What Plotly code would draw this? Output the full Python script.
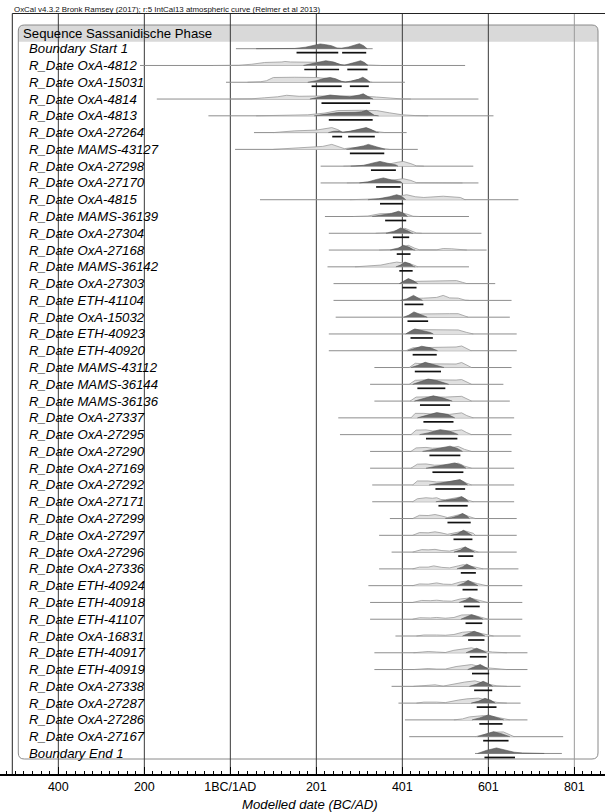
import plotly.graph_objects as go

# ---------------------------------------------------------------- text
TITLE = "OxCal v4.3.2 Bronk Ramsey (2017); r:5 IntCal13 atmospheric curve (Reimer et al 2013)"
GROUP = "Sequence Sassanidische Phase"
AXIS_TITLE = "Modelled date (BC/AD)"

TICK_VALUES = [-400, -200, 0, 200, 400, 600, 800]
TICK_LABELS = ["400", "200", "1BC/1AD", "201", "401", "601", "801"]

LABELS = [
    "Boundary Start 1",
    "R_Date OxA-4812", "R_Date OxA-15031", "R_Date OxA-4814", "R_Date OxA-4813",
    "R_Date OxA-27264", "R_Date MAMS-43127", "R_Date OxA-27298", "R_Date OxA-27170",
    "R_Date OxA-4815", "R_Date MAMS-36139", "R_Date OxA-27304", "R_Date OxA-27168",
    "R_Date MAMS-36142", "R_Date OxA-27303", "R_Date ETH-41104", "R_Date OxA-15032",
    "R_Date ETH-40923", "R_Date ETH-40920", "R_Date MAMS-43112", "R_Date MAMS-36144",
    "R_Date MAMS-36136", "R_Date OxA-27337", "R_Date OxA-27295", "R_Date OxA-27290",
    "R_Date OxA-27169", "R_Date OxA-27292", "R_Date OxA-27171", "R_Date OxA-27299",
    "R_Date OxA-27297", "R_Date OxA-27296", "R_Date OxA-27336", "R_Date ETH-40924",
    "R_Date ETH-40918", "R_Date ETH-41107", "R_Date OxA-16831", "R_Date ETH-40917",
    "R_Date ETH-40919", "R_Date OxA-27338", "R_Date OxA-27287", "R_Date OxA-27286",
    "R_Date OxA-27167",
    "Boundary End 1",
]

# full extent of each calibrated distribution (thin base line)
SPAN_START = [13, -210, -10, -171, -51, 55, 11, 210, 210, 69, 220, 229, 229, 226, 240,
              240, 245, 229, 229, 335, 325, 335, 251, 255, 325, 325, 330, 330, 371, 346,
              375, 346, 321, 325, 325, 384, 335, 335, 375, 391, 406, 416, 569]
SPAN_END = [331, 546, 406, 577, 612, 410, 436, 565, 577, 670, 555, 584, 596, 555, 616,
            654, 650, 666, 666, 654, 635, 650, 660, 654, 654, 660, 660, 660, 666, 666,
            666, 670, 679, 679, 679, 675, 691, 691, 675, 675, 691, 774, 771]

# unmodelled (calibrated) probability, relative height: (year, p)
LIKELIHOOD = [
    None,
    [(-40, 0), (20, .05), (50, .25), (80, .6), (120, .7), (127, .8), (140, .7), (200, .7),
     (240, .6), (258, .15), (270, .1), (290, .4), (305, .6), (320, .1), (350, 0)],
    [(40, 0), (70, .1), (84, .3), (100, .95), (150, 1.0), (200, .95), (230, .7), (255, .3),
     (265, .05), (280, .2), (300, .6), (315, .2), (330, 0)],
    [(0, 0), (50, .05), (80, .25), (110, .45), (131, .75), (160, .55), (200, .6), (240, .6),
     (280, .45), (309, .6), (340, .4), (370, .15), (395, .05), (420, 0)],
    [(60, 0), (120, .05), (180, .2), (220, .55), (250, 1.05), (300, 1.1), (340, 1.05),
     (370, .6), (400, .2), (430, .05), (460, 0)],
    [(100, 0), (130, .2), (150, .35), (200, .5), (220, .7), (236, 1.0), (250, .6), (260, .1),
     (275, .2), (300, .5), (320, .7), (340, .2), (360, 0)],
    [(100, 0), (130, .15), (150, .4), (190, .45), (215, .6), (236, 1.0), (252, .5),
     (265, .15), (280, .3), (300, .5), (320, .6), (345, .3), (370, 0)],
    [(263, 0), (290, .05), (330, .3), (350, .4), (370, .45), (390, .8), (402, .95),
     (420, .5), (433, .05), (450, 0)],
    [(271, 0), (300, .05), (340, .3), (370, .45), (390, .7), (402, .85), (420, .5),
     (433, .05), (480, .03), (500, .1), (520, .08), (540, 0)],
    [(278, 0), (310, .03), (350, .2), (380, .5), (410, 1.0), (430, .6), (450, .45),
     (495, .7), (520, .5), (535, .45), (546, 0)],
    [(286, 0), (320, .1), (348, .55), (370, .6), (391, .8), (410, .5), (425, .05), (440, 0)],
    [(338, 0), (365, .1), (385, .5), (406, 1.0), (420, .5), (433, .05), (445, 0)],
    [(346, 0), (375, .1), (395, .5), (414, .95), (428, .4), (440, .05), (480, .05),
     (495, .3), (515, .25), (534, .05), (550, 0)],
    [(290, 0), (320, .1), (350, .35), (370, .7), (387, .95), (400, .8), (415, .7),
     (428, .3), (436, 0)],
    [(395, 0), (410, .4), (430, .45), (460, .5), (495, .65), (510, .55), (526, .6),
     (540, .25), (550, 0)],
    [(405, 0), (420, .4), (450, .45), (480, .6), (495, 1.0), (510, .5), (530, .45),
     (546, .05), (555, 0)],
    [(408, 0), (420, .5), (450, .65), (480, .75), (510, .7), (530, .7), (545, .2), (553, 0)],
    [(408, 0), (425, .85), (460, .85), (500, .9), (530, .8), (550, .3), (565, 0)],
    [(408, 0), (425, .6), (460, .65), (500, .7), (525, .75), (538, .95), (550, .4), (560, 0)],
    [(416, 0), (430, .85), (450, .75), (500, .65), (525, .7), (538, 1.0), (550, .4), (561, 0)],
    [(416, 0), (430, .8), (455, .9), (500, .8), (525, .85), (538, .95), (550, .4), (561, 0)],
    [(418, 0), (432, .8), (460, .85), (500, .8), (538, .95), (550, .4), (561, 0)],
    [(420, 0), (430, .9), (450, .9), (470, .75), (510, .7), (538, 1.0), (550, .45), (565, 0)],
    [(420, 0), (432, .9), (455, .95), (470, .75), (510, .7), (538, .95), (550, .4), (561, 0)],
    [(420, 0), (432, .7), (455, .8), (470, .65), (510, .7), (530, 1.0), (545, .4), (561, 0)],
    [(420, 0), (435, .8), (455, .85), (475, .6), (505, .65), (530, 1.0), (545, .4), (561, 0)],
    [(424, 0), (435, .8), (460, .8), (480, .6), (510, .65), (534, 1.05), (548, .4), (561, 0)],
    [(424, 0), (435, .6), (455, .8), (470, .7), (480, .8), (490, .45), (500, .4), (525, .7),
     (538, 1.0), (550, .4), (565, 0)],
    [(424, 0), (440, .65), (460, .6), (476, .8), (490, .55), (505, .2), (520, .5),
     (540, .95), (555, .4), (570, 0)],
    [(424, 0), (440, .55), (460, .5), (476, .7), (490, .5), (505, .2), (525, .55),
     (545, .9), (565, .4), (570, 0)],
    [(424, 0), (445, .5), (460, .45), (476, .55), (492, .3), (510, .2), (530, .6),
     (542, .9), (560, .5), (577, 0)],
    [(424, 0), (440, .35), (460, .35), (473, .6), (492, .3), (510, .2), (530, .6),
     (542, .85), (570, .35), (588, 0)],
    [(424, 0), (440, .35), (460, .3), (480, .55), (496, .3), (515, .25), (535, .75),
     (553, .95), (575, .4), (596, 0)],
    [(424, 0), (445, .4), (465, .35), (480, .45), (496, .3), (515, .25), (535, .7),
     (557, .9), (580, .4), (598, 0)],
    [(424, 0), (440, .3), (465, .25), (480, .35), (500, .2), (520, .35), (538, .85),
     (561, .9), (585, .35), (600, 0)],
    [(433, 0), (450, .2), (480, .2), (500, .15), (520, .3), (540, .75), (561, .9),
     (590, .45), (612, 0)],
    [(426, 0), (445, .15), (460, .25), (480, .15), (500, .05), (520, .5), (540, .7),
     (561, 1.0), (585, .4), (610, .15), (643, 0)],
    [(426, 0), (445, .15), (460, .2), (480, .1), (500, .1), (525, .6), (545, .8),
     (561, 1.0), (590, .4), (615, .15), (643, 0)],
    [(426, 0), (450, .1), (476, .3), (495, .05), (520, .5), (545, .85), (569, 1.1),
     (595, .5), (620, .1), (643, 0)],
    [(433, 0), (450, .2), (480, .2), (500, .1), (530, .6), (550, .85), (577, 1.0),
     (600, .6), (620, .15), (643, 0)],
    [(520, 0), (540, .2), (556, .6), (588, .85), (610, .7), (630, .3), (650, 0)],
    [(570, 0), (590, .4), (612, .9), (635, .95), (650, .4), (660, 0)],
    None,
]

# modelled (posterior) probability, relative height: (year, p)
POSTERIOR = [
    [(60, 0), (150, .05), (175, .3), (195, .75), (209, .95), (222, .8), (235, .6),
     (248, .15), (258, .1), (275, .35), (290, .8), (300, 1.0), (310, .6), (318, 0)],
    [(170, 0), (190, .4), (205, .7), (222, .95), (240, .7), (255, .2), (265, .05),
     (278, .3), (295, .75), (303, .95), (312, .6), (320, 0)],
    [(180, 0), (200, .3), (220, .8), (232, .95), (245, .7), (258, .2), (268, .05),
     (280, .2), (298, .6), (308, 1.0), (318, .5), (325, 0)],
    [(185, 0), (205, .35), (232, .8), (255, .6), (278, .45), (300, .8), (309, 1.05),
     (320, .5), (332, 0)],
    [(195, 0), (220, .3), (250, .65), (290, .7), (305, .8), (317, 1.1), (325, .7),
     (335, .1), (345, 0)],
    [(228, 0), (240, .25), (252, .3), (262, .05), (280, .3), (300, .7), (316, 1.0),
     (328, .6), (340, .05), (345, 0)],
    [(270, 0), (290, .3), (310, .7), (321, 1.0), (335, .6), (352, .1), (360, 0)],
    [(280, 0), (310, .15), (330, .6), (348, .95), (365, .6), (385, .25), (390, 0)],
    [(300, 0), (320, .2), (340, .7), (356, 1.0), (375, .6), (395, .3), (400, 0)],
    [(320, 0), (345, .2), (370, .6), (387, 1.0), (398, .7), (408, 0)],
    [(330, 0), (355, .3), (375, .6), (391, 1.05), (402, .7), (412, 0)],
    [(362, 0), (380, .3), (396, 1.05), (410, .6), (422, .05), (425, 0)],
    [(372, 0), (390, .3), (402, .95), (415, .6), (426, .05), (430, 0)],
    [(385, 0), (395, .3), (406, .95), (418, .6), (426, .05), (430, 0)],
    [(393, 0), (402, .4), (414, 1.0), (425, .6), (433, .1), (436, 0)],
    [(396, 0), (410, .3), (426, 1.0), (437, .5), (444, .05), (447, 0)],
    [(403, 0), (415, .4), (427, 1.05), (440, .6), (452, .1), (458, 0)],
    [(408, 0), (418, .5), (429, 1.0), (450, .6), (465, .3), (472, 0)],
    [(412, 0), (425, .4), (445, .9), (465, .6), (478, .15), (482, 0)],
    [(420, 0), (435, .4), (453, 1.05), (475, .6), (492, .15), (497, 0)],
    [(424, 0), (440, .4), (460, 1.05), (480, .75), (500, .2), (508, 0)],
    [(428, 0), (445, .4), (472, 1.05), (495, .6), (512, .1), (516, 0)],
    [(435, 0), (455, .4), (480, 1.05), (505, .7), (518, .2), (522, 0)],
    [(440, 0), (460, .35), (488, 1.0), (510, .7), (525, .2), (530, 0)],
    [(447, 0), (470, .35), (495, .7), (511, 1.05), (528, .6), (538, .05), (540, 0)],
    [(455, 0), (480, .35), (505, .75), (522, 1.05), (538, .6), (546, .05), (548, 0)],
    [(462, 0), (490, .35), (515, .75), (534, 1.05), (545, .5), (552, 0)],
    [(478, 0), (505, .3), (525, .6), (538, 1.0), (548, .5), (554, 0)],
    [(500, 0), (515, .15), (530, .55), (540, 1.0), (550, .5), (556, 0)],
    [(512, 0), (528, .3), (542, 1.0), (552, .55), (562, 0)],
    [(520, 0), (535, .4), (546, 1.05), (558, .5), (568, 0)],
    [(527, 0), (540, .4), (550, .95), (562, .5), (572, 0)],
    [(528, 0), (543, .5), (553, 1.05), (566, .5), (576, 0)],
    [(532, 0), (548, .5), (557, 1.0), (570, .5), (580, 0)],
    [(536, 0), (550, .5), (561, .9), (575, .5), (588, 0)],
    [(540, 0), (555, .5), (567, .95), (580, .55), (592, 0)],
    [(548, 0), (562, .5), (573, .9), (585, .5), (596, 0)],
    [(552, 0), (568, .5), (581, 1.0), (592, .5), (602, 0)],
    [(556, 0), (572, .4), (588, 1.0), (600, .55), (610, 0)],
    [(560, 0), (578, .4), (592, .95), (605, .6), (616, 0)],
    [(562, 0), (580, .4), (600, 1.0), (618, .55), (636, 0)],
    [(575, 0), (592, .5), (612, 1.0), (632, .55), (650, 0)],
    [(575, 0), (595, .6), (619, 1.1), (640, .6), (660, .25), (680, .1), (705, .03), (730, 0)],
]

# 95.4% highest posterior density ranges
RANGES = [
    [(154, 251), (260, 316)], [(172, 253), (272, 319)], [(189, 259), (278, 322)],
    [(212, 325)], [(229, 331)], [(237, 260), (274, 336)], [(278, 358)], [(327, 385)],
    [(339, 396)], [(348, 402)], [(360, 409)], [(378, 416)], [(387, 419)], [(393, 424)],
    [(400, 433)], [(405, 449)], [(412, 460)], [(419, 471)], [(424, 480)], [(429, 490)],
    [(435, 500)], [(441, 511)], [(449, 519)], [(455, 528)], [(463, 535)], [(470, 542)],
    [(477, 546)], [(484, 552)], [(505, 559)], [(519, 563)], [(530, 565)], [(536, 571)],
    [(540, 575)], [(543, 580)], [(547, 586)], [(553, 591)], [(557, 596)], [(562, 602)],
    [(567, 609)], [(573, 619)], [(579, 633)], [(588, 647)], [(591, 662)],
]

# ---------------------------------------------------------------- geometry
W, H = 605, 812
AXIS_PX = 774            # pixel row of the date axis
ROW0_PX, ROW_STEP = 48.7, 16.78
ORIGIN_PX, PX_PER_YEAR = 230.33, 0.43
PEAK_PX = 5.0            # drawn height of a relative probability of 1
BAR_DROP_PX = 4.0

FONT = "Liberation Sans, Arial, Helvetica, sans-serif"
DARK_FILL, DARK_EDGE = "#6e6e6e", "#505050"
LIGHT_FILL, LIGHT_EDGE = "#e0e0e0", "#9a9a9a"
BASE_LINE = "#8e8e8e"
GRID_COLORS = ["#3a3a3a"] * 6 + ["#9a9a9a"]


def ry(px):
    """row units for a pixel height"""
    return (px - ROW0_PX) / ROW_STEP


def yr(px):
    """date units for a pixel column"""
    return (px - ORIGIN_PX) / PX_PER_YEAR


h_scale = PEAK_PX / ROW_STEP
bar_off = BAR_DROP_PX / ROW_STEP

fig = go.Figure()

for i, name in enumerate(LABELS):
    fig.add_trace(go.Scatter(
        x=[SPAN_START[i], SPAN_END[i]], y=[i, i], mode="lines",
        line=dict(color=BASE_LINE, width=1), hoverinfo="skip", showlegend=False))
    like = LIKELIHOOD[i]
    if like:
        fig.add_trace(go.Scatter(
            x=[p[0] for p in like], y=[i - p[1] * h_scale for p in like],
            mode="lines", fill="toself", fillcolor=LIGHT_FILL,
            line=dict(color=LIGHT_EDGE, width=0.8), hoverinfo="skip", showlegend=False))
    post = POSTERIOR[i]
    fig.add_trace(go.Scatter(
        x=[p[0] for p in post], y=[i - p[1] * h_scale for p in post],
        mode="lines", fill="toself", fillcolor=DARK_FILL,
        line=dict(color=DARK_EDGE, width=0.6), hoverinfo="skip", showlegend=False))
    bx, by = [], []
    for a, b in RANGES[i]:
        bx += [a, b, None]
        by += [i + bar_off, i + bar_off, None]
    fig.add_trace(go.Scatter(
        x=bx, y=by, mode="lines", line=dict(color="#111111", width=1.7),
        hoverinfo="skip", showlegend=False))

shapes = []

# outer frame (top and left edges)
shapes.append(dict(type="line", x0=yr(12.3), x1=yr(W), y0=ry(13.5), y1=ry(13.5),
                   line=dict(color="#222", width=1)))
shapes.append(dict(type="line", x0=yr(12.3), x1=yr(12.3), y0=ry(13.5), y1=ry(AXIS_PX),
                   line=dict(color="#222", width=1)))

# rounded group box with its header band
bx0, bx1 = yr(18.3), yr(598)
by0, by1, band = ry(25), ry(759), ry(41.7)
rx, rr = 6 / PX_PER_YEAR, 6 / ROW_STEP
band_path = (f"M {bx0},{band} L {bx0},{by0 + rr} Q {bx0},{by0} {bx0 + rx},{by0} "
             f"L {bx1 - rx},{by0} Q {bx1},{by0} {bx1},{by0 + rr} L {bx1},{band} Z")
shapes.append(dict(type="path", path=band_path, fillcolor="#d9d9d9",
                   line=dict(width=0), layer="below"))
box_path = (f"M {bx0 + rx},{by0} L {bx1 - rx},{by0} Q {bx1},{by0} {bx1},{by0 + rr} "
            f"L {bx1},{by1 - rr} Q {bx1},{by1} {bx1 - rx},{by1} L {bx0 + rx},{by1} "
            f"Q {bx0},{by1} {bx0},{by1 - rr} L {bx0},{by0 + rr} Q {bx0},{by0} {bx0 + rx},{by0} Z")
shapes.append(dict(type="path", path=box_path, line=dict(color="#8a8a8a", width=1),
                   layer="below"))

# vertical date grid
for v, c in zip(TICK_VALUES, GRID_COLORS):
    shapes.append(dict(type="line", x0=v, x1=v, y0=ry(13.5), y1=ry(AXIS_PX),
                       line=dict(color=c, width=1), layer="below"))

annotations = [
    dict(text=TITLE, x=11.5 / W, xref="paper", xanchor="left", y=ry(9.6), yref="y",
         yanchor="middle", showarrow=False, font=dict(family=FONT, size=7.9, color="#111")),
    dict(text=GROUP, x=20.5 / W, xref="paper", xanchor="left", y=ry(33.2), yref="y",
         yanchor="middle", showarrow=False, font=dict(family=FONT, size=13.2, color="#000")),
    dict(text=AXIS_TITLE, x=310 / W, xref="paper", xanchor="center",
         y=(AXIS_PX - 804) / AXIS_PX, yref="paper", yanchor="middle", showarrow=False,
         font=dict(family=FONT, size=13.2, color="#000", style="italic")),
]
for i, name in enumerate(LABELS):
    annotations.append(dict(
        text=name, x=26.5 / W, xref="paper", xanchor="left", y=i, yref="y",
        yanchor="middle", showarrow=False,
        font=dict(family=FONT, size=13.2, color="#000", style="italic")))

fig.update_layout(
    width=W, height=H, margin=dict(l=0, r=0, t=0, b=H - AXIS_PX, pad=0),
    paper_bgcolor="white", plot_bgcolor="white",
    shapes=shapes, annotations=annotations, showlegend=False,
    xaxis=dict(
        range=[yr(0), yr(W)], showgrid=False, zeroline=False,
        tickmode="array", tickvals=TICK_VALUES, ticktext=TICK_LABELS,
        ticks="inside", ticklen=7, tickwidth=1, tickcolor="#000",
        showline=True, linecolor="#000", linewidth=1.6,
        tickfont=dict(family=FONT, size=12.5, color="#000"),
        minor=dict(dtick=20, tick0=0, ticks="inside", ticklen=3.5, tickcolor="#000",
                   tickwidth=1, showgrid=False),
    ),
    yaxis=dict(range=[ry(AXIS_PX), ry(0)], visible=False, showgrid=False, zeroline=False),
)

fig.write_html("out.html")
